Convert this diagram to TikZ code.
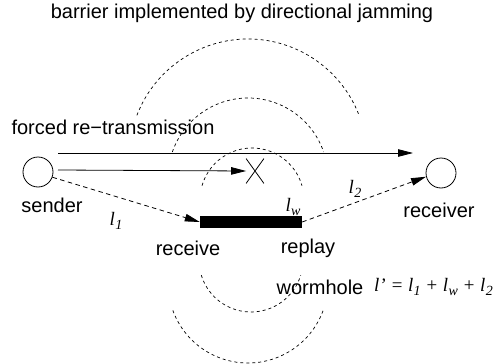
\documentclass[tikz,border=0pt]{standalone}
\usepackage{fontspec}
\setmainfont{Liberation Sans}
\newfontfamily\tms{Liberation Serif}
\usetikzlibrary{arrows.meta,shapes.misc,calc}
\newcommand{\lvar}[1]{{\tms\itshape l\kern0.3pt\raisebox{-4.5pt}{\fontsize{14}{14}\selectfont #1}}}
\begin{document}
\begin{tikzpicture}[x=1pt,y=-1pt,
  every node/.style={font=\fontsize{20}{24}\selectfont, inner sep=0pt},
  arr/.style={-{Triangle[length=15pt,width=7.5pt]}, line width=0.8pt},
  darr/.style={arr, dash pattern=on 4.5pt off 3.5pt},
  jam/.style={dash pattern=on 3pt off 3pt, line width=0.7pt},
  station/.style={circle, draw, line width=0.8pt, minimum size=30pt},
  mth/.style={font=\fontsize{19}{24}\selectfont\tms\itshape}]

\useasboundingbox (0,0) rectangle (498,364);

% title and labels
\node (title) at (242,13) {barrier implemented by directional jamming};
\node (forced) at (113,127) {forced re−transmission};

% stations
\node[station] (sender) at (38,172) {};
\node[station] (receiver) at (441,173) {};
\node (senderlbl) at (52,205) {sender};
\node (receiverlbl) at (439,210) {receiver};

% wormhole bar
\node[fill=black, minimum width=102pt, minimum height=12pt] (bar) at (251,222) {};
\node (receive) at (188,248) {receive};
\node (replay) at (308,248) {replay};
\node (wormhole) at (320,287) {wormhole};
\node[mth, anchor=east] (formula) at (493,287) {l’ = \lvar{1} + \lvar{w} + \lvar{2}};

% jamming arcs
\coordinate (c1) at (248,158);
\coordinate (c2) at (248,178);
\coordinate (c3) at (252,200);
\coordinate (c4) at (251,260);
\coordinate (c5) at (248,283);
\draw[jam] ([shift={(159:119pt)}]c1) arc[start angle=159, end angle=21, radius=119pt];
\draw[jam] ([shift={(161:80pt)}]c2) arc[start angle=161, end angle=19, radius=80pt];
\draw[jam] ([shift={(164:52pt)}]c3) arc[start angle=164, end angle=16, radius=52pt];
\draw[jam] ([shift={(-163:52pt)}]c4) arc[start angle=-163, end angle=-17, radius=52pt];
\draw[jam] ([shift={(-160:80pt)}]c5) arc[start angle=-160, end angle=-20, radius=80pt];

% blocked transmission
\node[cross out, draw, line width=0.8pt, minimum width=17pt, minimum height=24pt] (x) at (255,171) {};

% arrows
\coordinate (a1s) at (58,153);
\coordinate (a1e) at (413,153);
\coordinate (a2s) at (58,170);
\draw[arr] (a1s) -- (a1e);
\draw[arr] (a2s) -- (x.west);
\draw[darr] (sender.-20) -- (bar.west);
\draw[darr] (bar.east) -- (receiver.194);

% lengths
\node[mth] (l1) at (116,221) {\lvar{1}};
\node[mth] (l2) at (355,189) {\lvar{2}};
\node[mth] (lw) at (293,207) {\lvar{w}};
\end{tikzpicture}
\end{document}
